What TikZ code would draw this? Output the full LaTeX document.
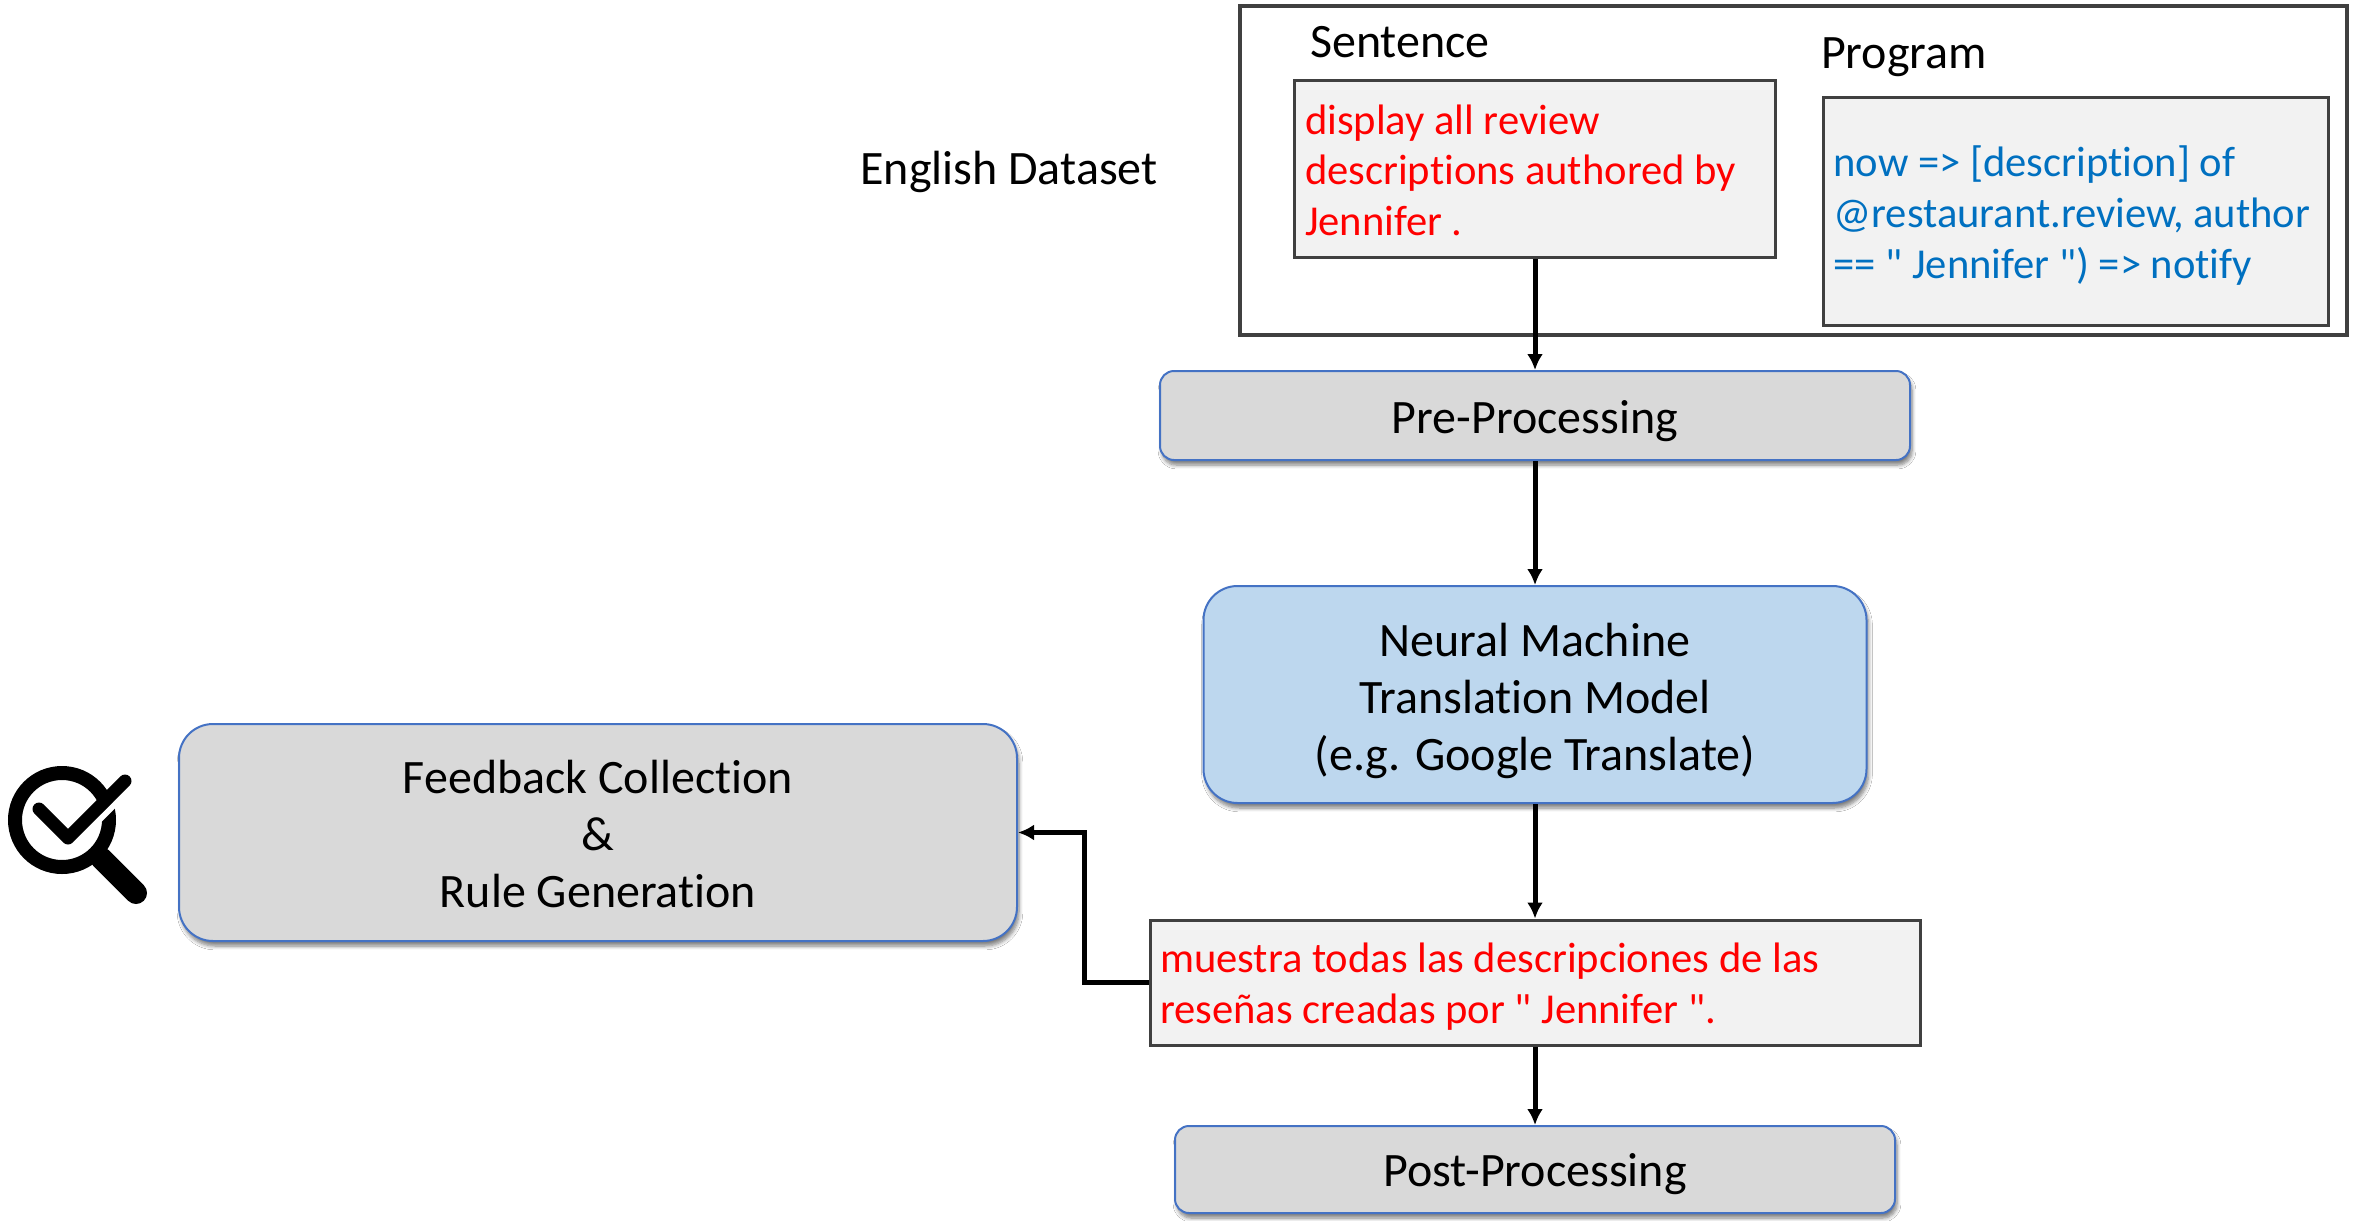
\documentclass[tikz,border=0pt]{standalone}
\usepackage{fontspec}
\setmainfont{Carlito}[Ligatures={TeXOff,CommonOff}]
\usetikzlibrary{arrows.meta,shadows.blur}
\definecolor{boxgray}{HTML}{F2F2F2}
\definecolor{edgedark}{HTML}{404040}
\definecolor{edgeblue}{HTML}{4472C4}
\definecolor{procgray}{HTML}{D9D9D9}
\definecolor{modelblue}{HTML}{BDD7EE}
\definecolor{progblue}{HTML}{0070C0}
\newcommand{\pushtext}[1]{\rule{0pt}{#1}}
\newcommand{\lowerby}[2]{\raisebox{-#1}[\height][\depth]{#2}}
\tikzset{
  base/.style={font=\fontsize{21.3}{25.3}\selectfont,inner sep=0pt},
  large/.style={font=\fontsize{24}{28.5}\selectfont,inner sep=0pt},
  plainlabel/.style={large,text=black},
  databox/.style={base,draw=edgedark,line width=1.5pt,fill=boxgray,align=flush left},
  procbox/.style={large,draw=edgeblue,line width=1pt,align=center,
    blur shadow={shadow xshift=1pt,shadow yshift=-2.5pt,shadow blur steps=6,shadow opacity=50}},
  flow/.style={line width=2.5pt,-{Latex[length=8pt,width=8pt]}},
}
\begin{document}
\begin{tikzpicture}[x=0.5pt,y=-0.5pt]
\useasboundingbox[fill=white] (0,0) rectangle (2357,1221);
\node[draw=edgedark,line width=1.7pt,minimum width=553.5pt,minimum height=164.5pt,inner sep=0pt] (dataset) at (1793.5,170.5) {};
\node[plainlabel] (english) at (1009,171.5) {English Dataset};
\node[plainlabel] (senlabel) at (1400,42) {Sentence};
\node[plainlabel] (proglabel) at (1904,57.5) {Program};
\node[databox,text=red,minimum width=240.5pt,minimum height=88.5pt,text width=230pt] (sentence) at (1535,168.5)
  {\lowerby{0.8pt}{display all review}\\\lowerby{0.8pt}{descriptions authored by}\\\lowerby{0.8pt}{Jennifer .}};
\node[databox,text=progblue,minimum width=252.5pt,minimum height=114pt,text width=242.5pt] (program) at (2076,211)
  {\pushtext{20pt}now => [description] of\\@restaurant.review, author\\== " Jennifer ") => notify};
\node[procbox,fill=procgray,rounded corners=7pt,minimum width=375pt,minimum height=44.5pt] (pre) at (1535,415.5) {\lowerby{3pt}{Pre-Processing}};
\node[procbox,fill=modelblue,rounded corners=17pt,minimum width=331.5pt,minimum height=108.5pt] (model) at (1535,694.5)
  {\lowerby{3pt}{Neural Machine}\\\lowerby{3pt}{Translation Model}\\\lowerby{3pt}{(e.g. Google Translate)}};
\node[databox,text=red,minimum width=385pt,minimum height=62.5pt,text width=375pt] (output) at (1535,982.5)
  {\lowerby{2.2pt}{muestra todas las descripciones de las}\\\lowerby{2.2pt}{reseñas creadas por " Jennifer ".}};
\node[procbox,fill=procgray,rounded corners=7pt,minimum width=360pt,minimum height=43.5pt] (post) at (1535,1169.5) {\lowerby{2.2pt}{Post-Processing}};
\node[procbox,fill=procgray,rounded corners=17pt,minimum width=419pt,minimum height=108.5pt] (feedback) at (598,832.5)
  {\lowerby{0.8pt}{Feedback Collection}\\\lowerby{0.8pt}{\&}\\\lowerby{0.8pt}{Rule Generation}};
\coordinate (bend) at (1084,832.5);
\draw[flow] (sentence.south) -- (pre.north);
\draw[flow] (pre.south) -- (model.north);
\draw[flow] (model.south) -- (output.north);
\draw[flow] (output.south) -- (post.north);
\draw[flow] (output.west) -| (bend) -- (feedback.east);
% magnifier icon
\draw[line width=7pt] (62,820) circle [radius=47];
\draw[line width=11pt,line cap=round] (101,858) -- (136,893);
\draw[white,line width=3pt] (88,831) -- (122,797);
\draw[line width=6.5pt,line cap=round,line join=round] (39,809) -- (68,838) -- (125,781);
\end{tikzpicture}
\end{document}
